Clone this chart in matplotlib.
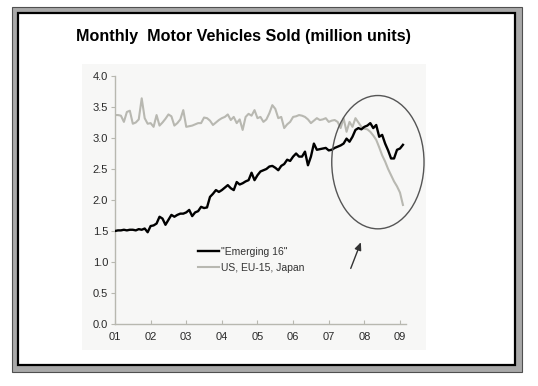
import matplotlib
matplotlib.use("Agg")
import matplotlib.pyplot as plt
from matplotlib.patches import Rectangle, Ellipse
import numpy as np

plt.rcParams['font.family'] = ['Liberation Sans', 'DejaVu Sans']

# ---- data (monthly, Jan 2001 - Feb 2009) ----
start_year = 2001
emerging16 = [
    1.50, 1.51, 1.51, 1.52, 1.51, 1.52, 1.52, 1.51, 1.53, 1.52, 1.54, 1.48,   # 2001
    1.58, 1.59, 1.62, 1.73, 1.70, 1.60, 1.68, 1.76, 1.73, 1.76, 1.78, 1.78,   # 2002
    1.80, 1.84, 1.74, 1.80, 1.82, 1.89, 1.87, 1.88, 2.05, 2.10, 2.16, 2.13,   # 2003
    2.16, 2.20, 2.24, 2.19, 2.16, 2.29, 2.25, 2.27, 2.30, 2.32, 2.44, 2.32,   # 2004
    2.40, 2.46, 2.48, 2.50, 2.54, 2.55, 2.52, 2.48, 2.55, 2.58, 2.65, 2.63,   # 2005
    2.70, 2.75, 2.70, 2.70, 2.78, 2.56, 2.70, 2.91, 2.81, 2.82, 2.83, 2.84,   # 2006
    2.80, 2.81, 2.84, 2.86, 2.88, 2.91, 2.99, 2.94, 3.02, 3.13, 3.16, 3.14,   # 2007
    3.18, 3.20, 3.24, 3.16, 3.21, 3.02, 3.05, 2.91, 2.80, 2.67, 2.67, 2.81,   # 2008
    2.83, 2.89,                                                               # 2009
]
us_eu_japan = [
    3.37, 3.37, 3.36, 3.26, 3.42, 3.44, 3.23, 3.25, 3.30, 3.64, 3.32, 3.23,   # 2001
    3.24, 3.18, 3.37, 3.20, 3.25, 3.31, 3.38, 3.35, 3.20, 3.24, 3.30, 3.45,   # 2002
    3.18, 3.19, 3.20, 3.22, 3.24, 3.24, 3.33, 3.32, 3.28, 3.21, 3.25, 3.29,   # 2003
    3.32, 3.34, 3.38, 3.29, 3.34, 3.24, 3.30, 3.13, 3.34, 3.39, 3.36, 3.45,   # 2004
    3.32, 3.34, 3.26, 3.30, 3.40, 3.53, 3.47, 3.32, 3.34, 3.16, 3.22, 3.26,   # 2005
    3.34, 3.35, 3.37, 3.36, 3.34, 3.30, 3.24, 3.28, 3.32, 3.29, 3.30, 3.32,   # 2006
    3.26, 3.28, 3.29, 3.26, 3.16, 3.32, 3.10, 3.26, 3.18, 3.32, 3.25, 3.18,   # 2007
    3.15, 3.14, 3.10, 3.04, 2.97, 2.85, 2.72, 2.62, 2.50, 2.40, 2.30, 2.22,   # 2008
    2.12, 1.92,                                                               # 2009
]
year_ticks = [2001, 2002, 2003, 2004, 2005, 2006, 2007, 2008, 2009]
year_labels = ["01", "02", "03", "04", "05", "06", "07", "08", "09"]
y_ticks = [0.0, 0.5, 1.0, 1.5, 2.0, 2.5, 3.0, 3.5, 4.0]
series_labels = ['"Emerging 16"', 'US, EU-15, Japan']
title = "Monthly  Motor Vehicles Sold (million units)"

t = start_year + np.arange(len(emerging16)) / 12.0

W, H = 538, 386
fig = plt.figure(figsize=(W / 100, H / 100), dpi=100)
fig.patch.set_facecolor("white")

def px(x0, y0, w, h):
    """pixel box (top-left origin) -> figure fraction"""
    return (x0 / W, 1 - (y0 + h) / H, w / W, h / H)

# outer frame
bx, by, bw, bh = px(12, 7, 510, 365)
fig.patches.append(Rectangle((bx, by), bw, bh, transform=fig.transFigure,
                             facecolor="#a9a9a9", edgecolor="#505050", lw=0.8, zorder=-10))
ix, iy, iw, ih = px(18, 13, 497, 352)
fig.patches.append(Rectangle((ix, iy), iw, ih, transform=fig.transFigure,
                             facecolor="white", edgecolor="black", lw=1.6, zorder=-9))
# light chart panel
gx, gy, gw, gh = px(82, 64, 344, 286)
fig.patches.append(Rectangle((gx, gy), gw, gh, transform=fig.transFigure,
                             facecolor="#f7f7f6", edgecolor="none", zorder=-8))

fig.text(76 / W, 1 - 37 / H, title, fontsize=11.6, fontweight="bold",
         ha="left", va="center", color="black")

ax = fig.add_axes([115 / W, 1 - 324 / H, (406 - 115) / W, (324 - 76) / H])
ax.set_zorder(1)
ax.set_facecolor("none")
ax.plot(t, us_eu_japan, color="#b8b8b1", lw=1.5, label=series_labels[1], zorder=2)
ax.plot(t, emerging16, color="black", lw=1.7, label=series_labels[0], zorder=3)

ax.set_xlim(2001, 2009 + (406 - 116) / 35.5 - 8)
ax.set_ylim(0, 4)
ax.set_xticks(year_ticks)
ax.set_xticklabels(year_labels)
ax.set_yticks(y_ticks)
ax.set_yticklabels([f"{v:.1f}" for v in y_ticks])
for s in ("top", "right"):
    ax.spines[s].set_visible(False)
for s in ("left", "bottom"):
    ax.spines[s].set_color("#b8b8b0")
    ax.spines[s].set_linewidth(1.0)
ax.tick_params(axis="y", direction="out", length=3, width=0.8, color="#b8b8b0",
               labelsize=8, labelcolor="#2a2a2a", pad=2)
ax.tick_params(axis="x", direction="in", length=3, width=0.8, color="#b8b8b0",
               labelsize=8, labelcolor="#2a2a2a", pad=6)

handles, labels = ax.get_legend_handles_labels()
leg = ax.legend(handles[::-1], labels[::-1], loc="upper left",
                bbox_to_anchor=(198 / W, 1 - 247 / H), bbox_transform=fig.transFigure,
                frameon=False, fontsize=7.5, handlelength=2.0, handletextpad=0.2,
                labelspacing=0.55, borderpad=0, borderaxespad=0)
for txt in leg.get_texts():
    txt.set_color("#333333")

# highlight ellipse and arrow
ax.add_patch(Ellipse((2008.38, 2.61), 2.59, 2.15, fill=False, edgecolor="#555555",
                     lw=1.0, clip_on=False, zorder=4))
ax.annotate("", xy=(2007.93, 1.36), xytext=(2007.59, 0.855),
            arrowprops=dict(arrowstyle="-|>,head_length=0.45,head_width=0.2",
                            color="#333333", lw=1.0), annotation_clip=False)

fig.savefig("out.png", dpi=100)
